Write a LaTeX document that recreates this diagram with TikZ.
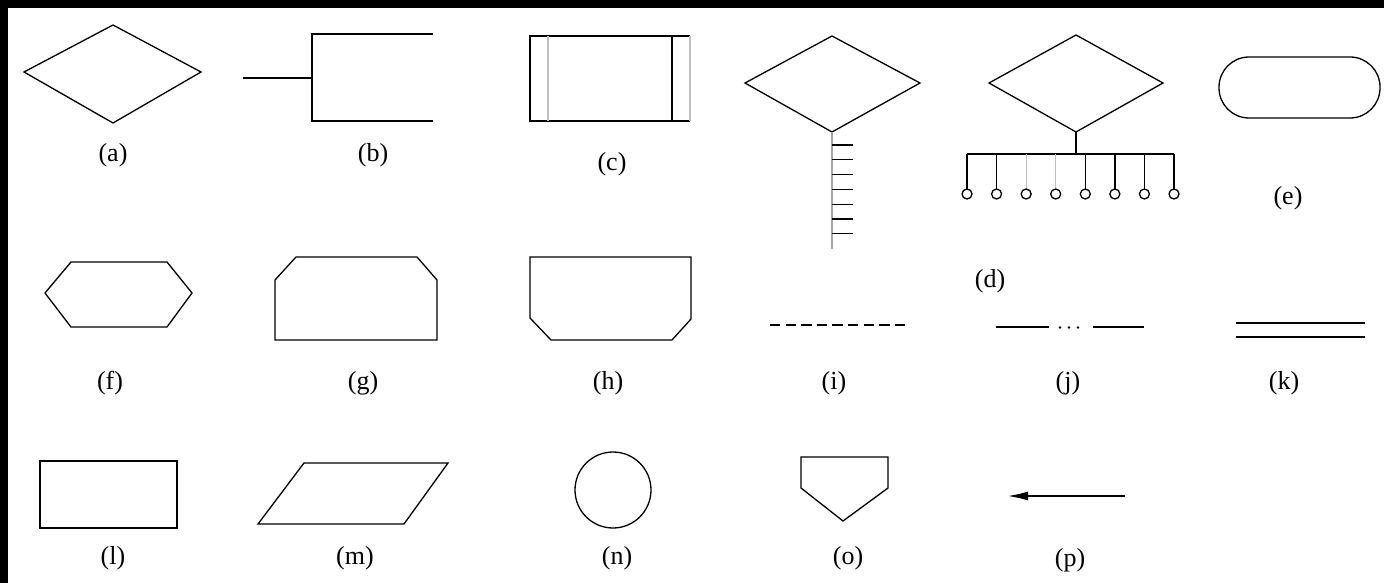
\documentclass[tikz,border=0pt]{standalone}
\usepackage{fontspec}
\setmainfont{Liberation Serif}
\usetikzlibrary{arrows.meta}
\begin{document}
\begin{tikzpicture}[x=1pt,y=-1pt,
  shp/.style={draw=black,line width=1.3pt,line join=miter},
  faint/.style={draw=black!25,line width=1.3pt},
  lbl/.style={inner sep=0pt,font=\fontsize{26}{30}\selectfont}]
\useasboundingbox (0,0) rectangle (1384,583);
\fill[white] (0,0) rectangle (1384,583);
\fill[black] (0,0) rectangle (1384,8);
\fill[black] (0,0) rectangle (8,583);
% (a)
\draw[shp] (24,72)--(113,25)--(201,72)--(113,123)--cycle;
\node[lbl] (la) at (113,155) {(a)};
% (b)
\draw[shp] (243,78)--(312,78);
\draw[shp] (433,34)--(312,34)--(312,121)--(433,121);
\node[lbl] (lb) at (373,155) {(b)};
% (c)
\draw[shp] (690,36)--(530,36)--(530,121)--(690,121);
\draw[shp] (672,36)--(672,121);
\draw[faint] (548,36)--(548,121);
\draw[faint] (690,36)--(690,121);
\node[lbl] (lc) at (612,164) {(c)};
% (d) left
\draw[shp] (745,83)--(832,36)--(920,83)--(832,132)--cycle;
\draw[draw=black!35,line width=1.3pt] (832,132)--(832,249);
\foreach \t in {145,159.8,174.6,189.4,204.2,219,233.8}
  \draw[shp] (832,\t)--(853,\t);
% (d) right
\draw[shp] (989,83)--(1076,35)--(1163,83)--(1076,132)--cycle;
\draw[shp] (1076,132)--(1076,154);
\draw[shp] (967,154)--(1174,154);
\foreach \i in {0,1,4,5,6,7}{
  \draw[shp] ({967+\i*29.57},154)--({967+\i*29.57},189);
}
\foreach \i in {2,3}{
  \draw[faint] ({967+\i*29.57},154)--({967+\i*29.57},189);
}
\foreach \i in {0,...,7}{
  \draw[shp] ({967+\i*29.57},194) circle (5);
}
\node[lbl] (ld) at (990,281) {(d)};
% (e)
\draw[shp,rounded corners=30pt] (1219,57) rectangle (1380,118);
\node[lbl] (le) at (1288,198) {(e)};
% (f)
\draw[shp] (45,293)--(71,262)--(167,262)--(192,293)--(167,327)--(71,327)--cycle;
\node[lbl] (lf) at (110,383) {(f)};
% (g)
\draw[shp] (275,340)--(275,280)--(296,257)--(417,257)--(437,280)--(437,340)--cycle;
\node[lbl] (lg) at (363,383) {(g)};
% (h)
\draw[shp] (530,257)--(691,257)--(691,319)--(672,340)--(551,340)--(530,318)--cycle;
\node[lbl] (lh) at (608,383) {(h)};
% (i)
\draw[shp,dash pattern=on 10.4pt off 5.2pt] (770,325)--(906,325);
\node[lbl] (li) at (834,383) {(i)};
% (j)
\draw[shp] (996,327)--(1049,327);
\draw[shp] (1093,327)--(1144,327);
\foreach \x in {1060,1069,1078} \fill (\x,327.5) circle (1.4);
\node[lbl] (lj) at (1068,383) {(j)};
% (k)
\draw[shp] (1236,323)--(1365,323);
\draw[shp] (1236,337)--(1365,337);
\node[lbl] (lk) at (1284,383) {(k)};
% (l)
\draw[shp] (40,461) rectangle (177,528);
\node[lbl] (ll) at (113,558) {(l)};
% (m)
\draw[shp] (304,463)--(448,463)--(404,524)--(258,524)--cycle;
\node[lbl] (lm) at (355,558) {(m)};
% (n)
\draw[shp] (613,490) circle (38);
\node[lbl] (ln) at (617,558) {(n)};
% (o)
\draw[shp] (801,457)--(888,457)--(888,488)--(843,521)--(801,488)--cycle;
\node[lbl] (lo) at (848,558) {(o)};
% (p)
\coordinate (ps) at (1125,496);
\coordinate (pe) at (1008,496);
\draw[shp,-{Latex[length=20pt,width=9pt]}] (ps)--(pe);
\node[lbl] (lp) at (1070,560) {(p)};
\end{tikzpicture}
\end{document}
